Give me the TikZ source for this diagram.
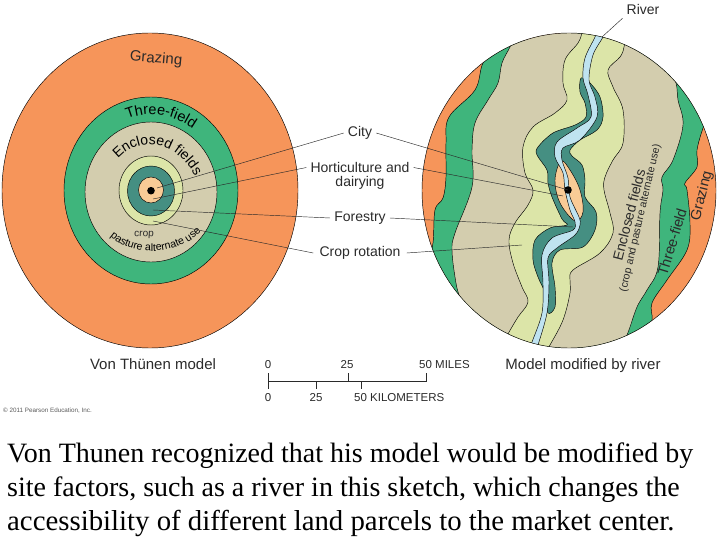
\documentclass[tikz,border=0pt]{standalone}
\usepackage{fontspec}
\setmainfont{Liberation Sans}
\newfontfamily\capfont{Liberation Serif}
\usetikzlibrary{decorations.text}
\definecolor{graz}{HTML}{F6955A}
\definecolor{three}{HTML}{3FB57C}
\definecolor{encl}{HTML}{D3CDAE}
\definecolor{crop}{HTML}{DCE5A8}
\definecolor{fore}{HTML}{458F82}
\definecolor{hort}{HTML}{F9CB96}
\definecolor{rivr}{HTML}{BFE3F0}
\definecolor{ink}{HTML}{2A2A2A}
\tikzset{
  edge/.style={draw=black,line width=0.45pt},
  leader/.style={draw=ink,line width=0.45pt},
  lab/.style={font=\fontsize{14}{14}\selectfont,text=ink,inner sep=4pt},
  small/.style={font=\fontsize{11.5}{11.5}\selectfont,text=ink,inner sep=0pt},
  maptext/.style={text=ink,inner sep=0pt},
  titletext/.style={font=\fontsize{15}{15}\selectfont,text=ink,inner sep=0pt,anchor=base},
  captext/.style={text=black,anchor=base west,inner sep=0pt},
  tick/.style={draw=ink,line width=0.6pt}
}
\begin{document}
\begin{tikzpicture}[x=1pt,y=-1pt]
\useasboundingbox (0,0) rectangle (720,540);
% left model
\filldraw[edge,fill=graz] (150,190.5) ellipse [x radius=148,y radius=157.5];
\filldraw[edge,fill=three] (151,190.5) ellipse [x radius=87,y radius=93.5];
\filldraw[edge,fill=encl] (151,192) ellipse [x radius=66,y radius=70];
\filldraw[edge,fill=crop] (151,190.5) ellipse [x radius=32,y radius=34.5];
\filldraw[edge,fill=fore] (151,191) ellipse [x radius=23.5,y radius=25];
\filldraw[edge,fill=hort] (151,190) ellipse [x radius=12.5,y radius=13];
\fill[black] (151,190.7) circle [radius=3.8];
\node[maptext,font=\fontsize{15}{15}\selectfont,rotate=-5] (grazL) at (156,59) {Grazing};
\path[decorate,decoration={text along path,text align=center,text={|\fontsize{14.5}{14.5}\selectfont|Three-field}}]
  (125,120) .. controls (147,110) and (172,113) .. (195,130);
\path[decorate,decoration={text along path,text align=center,text={|\fontsize{14}{14}\selectfont|Enclosed fields}}]
  (118,159) .. controls (137,138) and (172,136) .. (195,176);
\node[maptext,font=\fontsize{10}{10}\selectfont,rotate=-3] (cropL) at (144,235) {crop};
\path[decorate,decoration={text along path,text align=center,text={|\fontsize{10.6}{10.6}\selectfont|pasture alternate use}}]
  (105,231) .. controls (125,257) and (180,260) .. (206,226);
% right model
\begin{scope}
\clip (569,190.5) ellipse [x radius=147,y radius=157.5];
\fill[graz] (400,20) rectangle (730,360);
\filldraw[edge,fill=three]
  plot[smooth,tension=0.6] coordinates {(498,45) (483,63) (475,90) (449,117) (446,143) (446,177) (443,198) (435,210) (433,243) (428,262)}
  -- (420,370) -- (640,370)
  -- plot[smooth,tension=0.6] coordinates {(645,335) (652,320) (652,303) (667,280) (687,250) (690,223) (687,190) (685,183) (697,167) (697,150) (703,128) (712,105)}
  -- (720,10) -- cycle;
\filldraw[edge,fill=encl]
  plot[smooth,tension=0.6] coordinates {(518,30) (510,47) (502,63) (498,83) (488,100) (475,123) (472,150) (472,187) (455,233) (452,250) (455,277) (459,295) (468,315)}
  -- (480,370) -- (610,370)
  -- plot[smooth,tension=0.6] coordinates {(618,350) (627,335) (637,307) (647,290) (658,267) (660,213) (663,190) (662,177) (673,160) (683,125) (678,100) (676,83) (668,65)}
  -- (650,10) -- cycle;
\filldraw[edge,fill=crop]
  plot[smooth,tension=0.6] coordinates {(585,22) (582,33) (578,43) (565,60) (563,83) (567,100) (555,113) (533,127) (523,147) (525,173) (533,190) (528,205) (515,223) (509,240) (513,263) (522,287) (528,302) (518,317) (508,334) (500,350)}
  -- (500,370) -- (540,370)
  -- plot[smooth,tension=0.6] coordinates {(542,358) (550,345) (563,320) (570,293) (570,280) (573,270) (600,253) (613,233) (610,213) (604,190) (605,177) (613,160) (623,143) (623,110) (613,87) (608,70) (620,57) (624,47) (627,25)}
  -- (620,10) -- cycle;
\filldraw[edge,fill=fore] plot[smooth cycle,tension=0.55] coordinates {
  (581,78) (580,92) (585,103) (586,117) (575,125) (553,133) (538,147) (537,155) (547,170) (548,183) (552,197) (562,219) (567,225)
  (550,228) (535,240) (533,260) (538,277) (545,293) (548,313) (555,307) (555,287) (552,263) (560,250) (583,247) (595,230) (596,212) (585,197) (585,180) (582,165) (572,156) (570,150) (580,140) (597,130) (603,117) (600,97) (590,83)};
\filldraw[edge,fill=hort] plot[smooth cycle,tension=0.6] coordinates {
  (561,161) (555,180) (560,203) (575,221) (583,212) (580,190) (570,170)};
\filldraw[edge,fill=rivr] plot[smooth,tension=0.55] coordinates {
  (598,28) (595,37) (585,58) (583,78) (588,95) (591,117) (577,128) (557,142) (555,157) (563,173) (565,190) (570,210) (575,222) (573,230) (552,238) (542,255) (543,283) (542,313) (532,342) (528,352)}
  -- plot[smooth,tension=0.55] coordinates {
  (535,352) (538,345) (547,313) (549,283) (548,258) (557,248) (575,235) (580,225) (579,217) (570,197) (568,178) (562,160) (563,148) (580,140) (597,117) (595,97) (589,80) (593,55) (603,37) (606,28)}
  -- cycle;
\end{scope}
\draw[edge] (569,190.5) ellipse [x radius=147,y radius=157.5];
\fill[black] (568,190) circle [radius=3.8];
\node[maptext,font=\fontsize{14}{14}\selectfont,rotate=75.5] (enclR) at (629,215) {Enclosed fields};
\node[maptext,font=\fontsize{10.6}{10.6}\selectfont,rotate=77] (pastR) at (640.5,218) {(crop and pasture alternate use)};
\node[maptext,font=\fontsize{14.5}{14.5}\selectfont,rotate=73] (threeR) at (672,242) {Three-field};
\node[maptext,font=\fontsize{14.5}{14.5}\selectfont,rotate=76] (grazR) at (702,196) {Grazing};
% labels and leaders
\node[lab] (river) at (643,9) {River};
\node[lab] (city) at (360,133) {City};
\node[lab] (horta) at (360,167.5) {Horticulture and};
\node[lab] (hortb) at (360,183) {dairying};
\node[lab] (forest) at (360,218) {Forestry};
\node[lab,inner sep=6pt] (rota) at (360,253) {Crop rotation};
\coordinate (rv) at (602,37);
\coordinate (cL) at (157,188);
\coordinate (cR) at (568,190);
\coordinate (hL) at (153,199);
\coordinate (hR) at (563,196);
\coordinate (fL) at (153,210);
\coordinate (fR) at (573,227);
\coordinate (rL) at (153,221);
\coordinate (rR) at (522,245);
\draw[leader] (river.south west) -- (rv);
\draw[leader] (city.west) -- (cL);
\draw[leader] (city.east) -- (cR);
\draw[leader] (horta.west) -- (hL);
\draw[leader] (horta.east) -- (hR);
\draw[leader] (forest.west) -- (fL);
\draw[leader] (forest.east) -- (fR);
\draw[leader] (rota.west) -- (rL);
\draw[leader] (rota.east) -- (rR);
% titles
\node[titletext] (t1) at (153,369) {Von Thünen model};
\node[titletext] (t2) at (583,369) {Model modified by river};
% scale
\coordinate (s0) at (268,381.7);
\coordinate (s50) at (426,381.7);
\draw[tick] (s0) -- (s50);
\draw[tick] (268,373) -- (268,389);
\draw[tick] (348,373) -- (348,381.7);
\draw[tick] (426,373) -- (426,381.7);
\draw[tick] (316,381.7) -- (316,389);
\draw[tick] (361,381.7) -- (361,389);
\node[small] (m0) at (268,365) {0};
\node[small] (m25) at (347,365) {25};
\node[small,anchor=west] (m50) at (419,365) {50 MILES};
\node[small] (k0) at (268,398) {0};
\node[small] (k25) at (316,398) {25};
\node[small,anchor=west] (k50) at (354,398) {50 KILOMETERS};
\node[anchor=west,inner sep=0pt,font=\fontsize{6.3}{6.3}\selectfont,text=black!65] (copy) at (3,411) {© 2011 Pearson Education, Inc.};
% caption
\node[captext,font=\capfont\fontsize{28}{28}\selectfont] (c1) at (7,462) {Von Thunen recognized that his model would be modified by};
\node[captext,font=\capfont\fontsize{28}{28}\selectfont] (c2) at (7,496) {site factors, such as a river in this sketch, which changes the};
\node[captext,font=\capfont\fontsize{28.8}{28.8}\selectfont] (c3) at (7,530) {accessibility of different land parcels to the market center.};
\end{tikzpicture}
\end{document}
